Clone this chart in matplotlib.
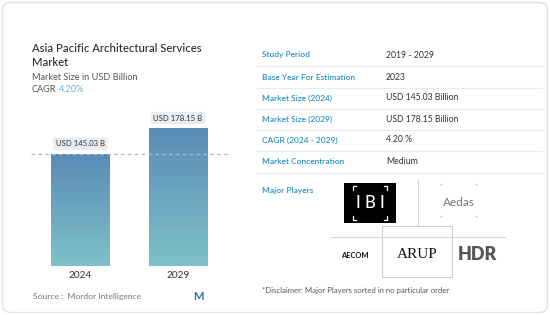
import numpy as np
import matplotlib.pyplot as plt
from matplotlib.patches import FancyBboxPatch, Rectangle
from matplotlib.colors import LinearSegmentedColormap

plt.rcParams['font.family'] = ['Lato', 'DejaVu Sans']

# data
years = ['2024', '2029']
sizes = [145.03, 178.15]
bar_labels = ['USD 145.03 B', 'USD 178.15 B']
row_names = ['Study Period', 'Base Year For Estimation', 'Market Size (2024)',
             'Market Size (2029)', 'CAGR (2024 - 2029)', 'Market Concentration']
row_values = ['2019 - 2029', '2023', 'USD 145.03 Billion', 'USD 178.15 Billion',
              '4.20 %', 'Medium']

W, H = 550, 315
fig = plt.figure(figsize=(W / 100, H / 100), dpi=100)

# background axes in pixel coords (y downward)
bg = fig.add_axes([0, 0, 1, 1])
bg.set_xlim(0, W)
bg.set_ylim(H, 0)
bg.axis('off')

bg.add_patch(FancyBboxPatch((2.5, 2.5), W - 5, H - 5, boxstyle='round,pad=0,rounding_size=8',
                            fc='white', ec='#e2e2e2', lw=1))

teal = '#2b93c4'
dark = '#2a2a2a'

# title block
bg.text(32, 48, 'Asia Pacific Architectural Services', fontsize=8.1, color=dark,
        fontweight='medium', va='center')
bg.text(32, 62, 'Market', fontsize=8.1, color=dark, fontweight='medium', va='center')
bg.text(32, 77, 'Market Size in USD Billion', fontsize=6.6, color='#555555', va='center')
bg.text(32, 90, 'CAGR', fontsize=6.6, color='#555555', va='center')
bg.text(59, 90, '4.20%', fontsize=6.6, color='#6fb3d2', va='center')

# bar chart
ax_b = 266
ax_t = 110
ax = fig.add_axes([31 / W, (H - ax_b) / H, (228 - 31) / W, (ax_b - ax_t) / H])
ax.set_xlim(-0.508, 1.513)
ax.set_ylim(0, 145.03 * (ax_b - ax_t) / (266 - 154))
ax.axis('off')
ax.patch.set_alpha(0)

cmap = LinearSegmentedColormap.from_list('g', ['#7ec2c8', '#5a8bb6'])
grad = np.linspace(0, 1, 256).reshape(-1, 1)
bars = ax.bar(range(len(years)), sizes, width=0.605, color='none', zorder=2)
for b in bars:
    x0, w, h = b.get_x(), b.get_width(), b.get_height()
    im = ax.imshow(grad, cmap=cmap, aspect='auto', origin='lower',
                   extent=[x0, x0 + w, 0, h], zorder=2)
    im.set_clip_path(b)
ax.axhline(sizes[0], color='#a9bccb', lw=0.9, ls=(0, (3, 2.5)), zorder=3)
ax.set_xlim(-0.508, 1.513)

for i, (v, lab) in enumerate(zip(sizes, bar_labels)):
    ax.annotate(lab, (i, v), xytext=(0, 7.5), textcoords='offset points',
                ha='center', va='center', fontsize=5.6, color='#333333', zorder=4,
                bbox=dict(boxstyle='round,pad=0.35,rounding_size=0.3', fc='#e9edf0', ec='none'))

for i, y in enumerate(years):
    bg.text(80.5 + 97.5 * i, 276, y, fontsize=7.2, color='#333333', ha='center', va='center')

bg.text(33, 297, 'Source :  Mordor Intelligence', fontsize=6.1, color='#777777', va='center')
bg.text(198, 296, 'M', fontsize=8, color='#2f6f9e', ha='center', va='center', fontweight='bold')

# table
row_y = [55, 77, 98, 119, 140, 162]
for name, val, y in zip(row_names, row_values, row_y):
    bg.text(262, y, name, fontsize=6.0, color=teal, va='center', fontweight='semibold')
    bg.text(386, y, val, fontsize=6.2, color='#333333', va='center')
    bg.plot([256, 542], [y + 10.5, y + 10.5], color='#ebebeb', lw=0.8)

bg.text(262, 190, 'Major Players', fontsize=6.0, color=teal, va='center', fontweight='semibold')

# logos
bg.add_patch(Rectangle((344, 183), 52, 40, fc='black', ec='none'))
bg.plot([353, 353, 356], [190, 186, 186], color='white', lw=0.9)
bg.plot([384, 387, 387], [186, 186, 190], color='white', lw=0.9)
bg.plot([353, 353, 356], [216, 220, 220], color='white', lw=0.9)
bg.plot([384, 387, 387], [220, 220, 216], color='white', lw=0.9)
bg.text(370, 203, 'I B I', fontsize=12, color='white', ha='center', va='center',
        fontweight='medium')

bg.plot([418, 418], [180, 226], color='#d6d6d6', lw=0.8)
bg.plot([331, 505], [237, 237], color='#d6d6d6', lw=0.8)
bg.text(459, 202, 'Aedas', fontsize=8.5, color='#777777', ha='center', va='center')
for px, py in [(441, 185), (476, 185), (441, 218), (476, 218)]:
    bg.text(px, py, '+', fontsize=4, color='#aaaaaa', ha='center', va='center')

bg.add_patch(Rectangle((382, 226), 70, 51, fc='white', ec='#cccccc', lw=0.8))
bg.text(417, 254, 'ARUP', fontsize=11, color='#111111', ha='center', va='center',
        family=['Liberation Serif', 'DejaVu Serif'])
bg.text(355, 256, 'AECOM', fontsize=5.4, color='#111111', ha='center', va='center',
        fontweight='bold')
bg.text(477, 255, 'HDR', fontsize=13, color='#555555', ha='center', va='center',
        fontweight='heavy')

bg.text(262, 291, '*Disclaimer: Major Players sorted in no particular order', fontsize=5.6,
        color='#555555', va='center')

fig.savefig('out.png', dpi=100)
